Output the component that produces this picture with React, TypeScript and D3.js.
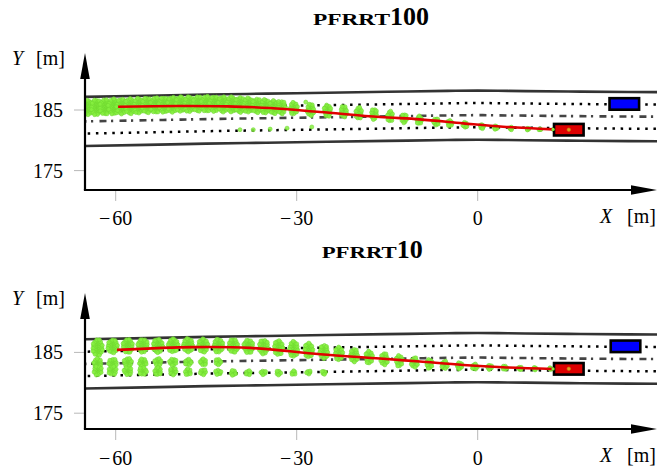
import React from 'react';
import * as d3 from 'd3';

const W = 657;
const H = 471;

// ---- axis ticks ----
const xTickValues = [-60, -30, 0];
const yTickValues = [175, 185];

// ---- road geometry (shared by both panels) ----
const roadX = [-66, -55, -45, -35, -25, -15, -5, 0, 5, 15, 25, 31];
const roadCenterY = [183.1, 183.3, 183.5, 183.65, 183.8, 183.95, 184.1, 184.15, 184.1, 184.0, 183.92, 183.9];
const roadEdgeOffsets = [4.05, -4.05];
const laneLineOffsets = [2.0, -2.0];

// ---- planned trajectories ----
const traj100X = [-59.6, -49.3, -41.5, -34.4, -26.1, -16.2, -9.6, -2.4, 4.2, 12.5];
const traj100Y = [185.54, 185.66, 185.6, 185.33, 184.67, 183.84, 183.46, 182.8, 182.24, 181.8];
const traj10X = [-59.8, -47.2, -37.7, -26.1, -16.2, -9.6, -2.4, 4.2, 12.5];
const traj10Y = [185.41, 185.86, 185.74, 184.7, 184.0, 183.5, 182.94, 182.56, 182.28];

// ---- vehicles [X, Y] ----
const ego100 = [15.1, 181.75];
const obstacle100 = [24.3, 186.0];
const ego10 = [15.1, 182.3];
const obstacle10 = [24.5, 186.0];
const carSize = [4.9, 1.9];

// ---- particle clusters [X, Y, rx, ry, count] ----
const particles100 = [
  [-64.6, 185.4, 0.9, 1.3, 44],
  [-63.2, 185.45, 0.9, 1.3, 44],
  [-61.8, 185.5, 0.9, 1.3, 44],
  [-60.4, 185.55, 0.9, 1.3, 44],
  [-59.0, 185.6, 0.9, 1.3, 44],
  [-57.6, 185.65, 0.9, 1.3, 44],
  [-56.2, 185.7, 0.9, 1.3, 44],
  [-54.8, 185.75, 0.9, 1.3, 44],
  [-53.4, 185.8, 0.9, 1.3, 44],
  [-52.0, 185.85, 0.9, 1.3, 44],
  [-50.6, 185.9, 0.9, 1.3, 44],
  [-49.2, 185.95, 0.9, 1.3, 44],
  [-47.8, 185.95, 0.9, 1.3, 44],
  [-46.4, 186.0, 0.9, 1.3, 44],
  [-45.0, 186.0, 0.9, 1.3, 44],
  [-43.6, 186.0, 0.9, 1.3, 44],
  [-42.2, 185.95, 0.9, 1.3, 44],
  [-40.8, 185.9, 0.9, 1.3, 42],
  [-39.4, 185.85, 0.9, 1.3, 42],
  [-38.0, 185.8, 0.9, 1.25, 40],
  [-36.6, 185.7, 0.85, 1.2, 38],
  [-35.2, 185.6, 0.8, 1.2, 36],
  [-33.8, 185.5, 0.75, 1.15, 32],
  [-32.5, 185.4, 0.7, 1.1, 28],
  [-30.5, 185.28, 0.65, 1.05, 26],
  [-27.7, 185.0, 0.6, 1.05, 26],
  [-24.9, 184.9, 0.6, 1.05, 24],
  [-22.2, 184.7, 0.55, 1.0, 22],
  [-19.7, 184.5, 0.55, 1.0, 22],
  [-17.2, 184.3, 0.52, 0.92, 20],
  [-14.5, 183.96, 0.5, 0.9, 18],
  [-12.2, 183.6, 0.48, 0.76, 16],
  [-9.7, 183.35, 0.46, 0.74, 15],
  [-6.9, 183.07, 0.44, 0.64, 14],
  [-4.6, 182.8, 0.42, 0.56, 12],
  [-2.1, 182.52, 0.4, 0.46, 11],
  [0.7, 182.3, 0.36, 0.4, 9],
  [3.0, 182.1, 0.32, 0.32, 8],
  [5.5, 181.95, 0.28, 0.25, 6],
  [8.3, 181.85, 0.24, 0.18, 5],
  [10.3, 181.8, 0.2, 0.14, 4],
];
const stray100 = [
  [-39.4, 181.75], [-37.2, 181.75], [-34.4, 181.85], [-31.6, 182.0],
  [-27.5, 182.2], [-33.0, 186.4], [-28.5, 186.3], [12.5, 181.8],
];

const particles10 = [
  // upper row, following the trajectory
  [-63.0, 185.8, 0.85, 1.4, 48],
  [-60.5, 186.0, 0.85, 1.15, 42],
  [-58.0, 186.05, 0.85, 1.15, 42],
  [-55.5, 186.1, 0.85, 1.15, 42],
  [-53.0, 186.1, 0.85, 1.15, 42],
  [-50.5, 186.15, 0.85, 1.15, 42],
  [-48.0, 186.15, 0.85, 1.15, 42],
  [-45.5, 186.15, 0.8, 1.15, 40],
  [-43.0, 186.1, 0.8, 1.15, 40],
  [-40.5, 186.05, 0.8, 1.15, 40],
  [-38.0, 186.0, 0.8, 1.15, 38],
  [-35.5, 185.9, 0.8, 1.2, 38],
  [-33.0, 185.75, 0.75, 1.25, 38],
  [-30.5, 185.55, 0.75, 1.3, 38],
  [-28.0, 185.35, 0.7, 1.25, 34],
  [-25.5, 185.1, 0.7, 1.2, 32],
  [-23.0, 184.8, 0.65, 1.15, 30],
  [-20.5, 184.5, 0.65, 1.15, 28],
  [-18.0, 184.2, 0.6, 1.1, 26],
  [-15.5, 183.9, 0.6, 1.05, 24],
  [-13.0, 183.6, 0.55, 1.0, 22],
  [-10.5, 183.35, 0.55, 0.9, 20],
  [-8.0, 183.1, 0.5, 0.85, 18],
  [-5.5, 182.95, 0.5, 0.72, 16],
  [-3.0, 182.8, 0.45, 0.62, 14],
  [-0.5, 182.65, 0.45, 0.52, 12],
  [2.0, 182.55, 0.4, 0.44, 10],
  [4.5, 182.45, 0.38, 0.38, 9],
  [7.0, 182.4, 0.32, 0.3, 7],
  [9.5, 182.35, 0.26, 0.24, 6],
  [12.0, 182.3, 0.18, 0.18, 4],
  // middle row
  [-63.0, 183.3, 0.7, 0.7, 20],
  [-60.5, 183.3, 0.7, 0.7, 20],
  [-58.0, 183.35, 0.7, 0.7, 20],
  [-55.5, 183.35, 0.65, 0.65, 18],
  [-53.0, 183.4, 0.62, 0.62, 16],
  [-50.5, 183.4, 0.6, 0.6, 16],
  [-48.0, 183.4, 0.55, 0.55, 14],
  [-45.5, 183.4, 0.55, 0.55, 14],
  [-43.0, 183.45, 0.5, 0.5, 12],
  // lower row
  [-63.0, 182.0, 0.7, 0.8, 20],
  [-60.5, 182.0, 0.7, 0.75, 18],
  [-58.0, 181.95, 0.65, 0.7, 18],
  [-55.5, 181.9, 0.65, 0.7, 16],
  [-53.0, 181.9, 0.6, 0.65, 16],
  [-50.5, 181.85, 0.6, 0.6, 14],
  [-48.0, 181.8, 0.55, 0.55, 12],
  [-45.5, 181.75, 0.52, 0.5, 11],
  [-43.0, 181.7, 0.5, 0.45, 10],
  [-40.5, 181.65, 0.48, 0.45, 10],
  [-38.0, 181.65, 0.46, 0.4, 9],
  [-35.5, 181.65, 0.44, 0.4, 8],
  [-33.0, 181.65, 0.42, 0.38, 8],
  [-30.5, 181.65, 0.4, 0.36, 7],
  [-28.0, 181.7, 0.38, 0.34, 6],
  [-25.5, 181.7, 0.36, 0.32, 6],
];
const stray10 = [[12.5, 182.28]];

const panels = [
  {
    id: 'p100',
    title: 'PFRRT',
    titleNum: '100',
    titleX: 313,
    titleW: 77,
    titleBase: 25,
    yRange: [170.6, 110],
    axisY: 190,
    arrowTop: 53,
    tickBase: 225,
    xLabelBase: 223,
    yLabelBase: 65,
    trajX: traj100X,
    trajY: traj100Y,
    ego: ego100,
    obstacle: obstacle100,
    particles: particles100,
    stray: stray100,
  },
  {
    id: 'p10',
    title: 'PFRRT',
    titleNum: '10',
    titleX: 321.7,
    titleW: 75,
    titleBase: 258,
    yRange: [413.2, 352.4],
    axisY: 429,
    arrowTop: 293,
    tickBase: 465,
    xLabelBase: 462,
    yLabelBase: 305,
    trajX: traj10X,
    trajY: traj10Y,
    ego: ego10,
    obstacle: obstacle10,
    particles: particles10,
    stray: stray10,
  },
];

const AXIS_X = 85;
const SERIF = '"Liberation Serif", "Times New Roman", serif';

function clusterPoints(clusters: number[][]) {
  const pts: number[][] = [];
  clusters.forEach(([cx, cy, rx, ry, n], ci) => {
    for (let i = 0; i < n; i++) {
      const r = Math.sqrt((i + 0.5) / n);
      const th = i * 2.39996 + ci * 1.7;
      pts.push([cx + rx * r * Math.cos(th), cy + ry * r * Math.sin(th)]);
    }
  });
  return pts;
}

function Panel({ cfg }: { cfg: any }) {
  const x = d3.scaleLinear().domain([-60, 0]).range([115.7, 477.7]);
  const y = d3.scaleLinear().domain([175, 185]).range(cfg.yRange);

  const road = roadX.map((v, i) => [v, roadCenterY[i]]);
  const lineGen = (off: number) =>
    d3
      .line<number[]>()
      .x((d) => x(d[0]))
      .y((d) => y(d[1] + off))
      .curve(d3.curveMonotoneX)(road) as string;

  const traj = cfg.trajX.map((v: number, i: number) => [v, cfg.trajY[i]]);
  const trajPath = d3
    .line<number[]>()
    .x((d) => x(d[0]))
    .y((d) => y(d[1]))
    .curve(d3.curveCatmullRom)(traj) as string;

  const pts = clusterPoints(cfg.particles).concat(cfg.stray);

  const car = (c: number[], fill: string) => {
    const x0 = x(c[0] - carSize[0] / 2);
    const x1 = x(c[0] + carSize[0] / 2);
    const y0 = y(c[1] + carSize[1] / 2);
    const y1 = y(c[1] - carSize[1] / 2);
    return (
      <rect x={x0} y={y0} width={x1 - x0} height={y1 - y0} fill={fill} stroke="#000" strokeWidth={2.6} />
    );
  };

  const clipId = `clip-${cfg.id}`;
  const ax = AXIS_X;

  return (
    <g>
      <defs>
        <clipPath id={clipId}>
          <rect x={ax} y={cfg.arrowTop} width={W - ax} height={cfg.axisY - cfg.arrowTop} />
        </clipPath>
      </defs>
      {/* title */}
      <text
        x={cfg.titleX}
        y={cfg.titleBase}
        fontFamily={SERIF}
        fontWeight="bold"
        fontSize={17}
        textLength={cfg.titleW}
        lengthAdjust="spacingAndGlyphs"
        fill="#000"
      >
        {cfg.title}
      </text>
      <text x={cfg.titleX + cfg.titleW} y={cfg.titleBase} fontFamily={SERIF} fontWeight="bold" fontSize={26} fill="#000">
        {cfg.titleNum}
      </text>

      {/* ticks */}
      {yTickValues.map((t) => (
        <g key={`y${t}`}>
          <line x1={ax - 11} x2={ax} y1={y(t)} y2={y(t)} stroke="#b8b8b8" strokeWidth={1} />
          <text x={63} y={y(t)} dy="0.35em" textAnchor="end" fontFamily={SERIF} fontSize={20} fill="#000">
            {t}
          </text>
        </g>
      ))}
      {xTickValues.map((t) => (
        <g key={`x${t}`}>
          <line x1={x(t)} x2={x(t)} y1={cfg.axisY} y2={cfg.axisY + 11} stroke="#b8b8b8" strokeWidth={1} />
          <text x={x(t)} y={cfg.tickBase} textAnchor="middle" fontFamily={SERIF} fontSize={20} fill="#000">
            {t < 0 ? (
              <>
                <tspan>{'\u2212'}</tspan>
                <tspan dx={2}>{Math.abs(t)}</tspan>
              </>
            ) : (
              t
            )}
          </text>
        </g>
      ))}

      <g clipPath={`url(#${clipId})`}>
        {/* road edges */}
        {roadEdgeOffsets.map((o) => (
          <path key={`e${o}`} d={lineGen(o)} fill="none" stroke="#333" strokeWidth={2.6} />
        ))}
        {/* lane lines */}
        {laneLineOffsets.map((o) => (
          <path key={`l${o}`} d={lineGen(o)} fill="none" stroke="#000" strokeWidth={2.5} strokeDasharray="2.5 5.7" />
        ))}
        {/* center dash-dot */}
        <path d={lineGen(0)} fill="none" stroke="#444" strokeWidth={2.6} strokeDasharray="7 4.5 2.2 6.3" />
        {/* particles */}
        <g>
          {pts.map((p, i) => (
            <circle
              key={i}
              cx={x(p[0])}
              cy={y(p[1])}
              r={2}
              fill="#86f040"
              fillOpacity={0.85}
              stroke="#70d830"
              strokeWidth={0.6}
            />
          ))}
        </g>
        {/* trajectory */}
        <path d={trajPath} fill="none" stroke="#e00000" strokeWidth={2.6} />
        {car(cfg.obstacle, '#0000ff')}
        {car(cfg.ego, '#dd0000')}
        <circle cx={x(cfg.ego[0])} cy={y(cfg.ego[1])} r={1.8} fill="#e0a020" stroke="#c08010" strokeWidth={0.6} />
        <circle cx={x(cfg.trajX[cfg.trajX.length - 1])} cy={y(cfg.trajY[cfg.trajY.length - 1])} r={1.6} fill="#86f040" />
      </g>

      {/* axes */}
      <line x1={ax} x2={ax} y1={cfg.axisY} y2={cfg.arrowTop + 20} stroke="#000" strokeWidth={2.2} />
      <polygon
        points={`${ax},${cfg.arrowTop} ${ax - 4.8},${cfg.arrowTop + 26} ${ax + 4.8},${cfg.arrowTop + 26}`}
        fill="#000"
      />
      <line x1={ax - 1.1} x2={W - 20} y1={cfg.axisY} y2={cfg.axisY} stroke="#000" strokeWidth={2.2} />
      <polygon points={`${W},${cfg.axisY} ${W - 26},${cfg.axisY - 4.8} ${W - 26},${cfg.axisY + 4.8}`} fill="#000" />

      {/* axis labels */}
      <text x={12} y={cfg.yLabelBase} fontFamily={SERIF} fontSize={20} fill="#000">
        <tspan fontStyle="italic">Y</tspan>
        <tspan x={36}>[m]</tspan>
      </text>
      <text x={600} y={cfg.xLabelBase} fontFamily={SERIF} fontSize={20} fill="#000">
        <tspan fontStyle="italic">X</tspan>
        <tspan x={627}>[m]</tspan>
      </text>
    </g>
  );
}

export default function App() {
  return (
    <svg
      width={W}
      height={H}
      viewBox={`0 0 ${W} ${H}`}
      style={{ position: 'absolute', left: 0, top: 0, background: '#fff' }}
    >
      <rect x={0} y={0} width={W} height={H} fill="#fff" />
      {panels.map((p) => (
        <Panel key={p.id} cfg={p} />
      ))}
    </svg>
  );
}
